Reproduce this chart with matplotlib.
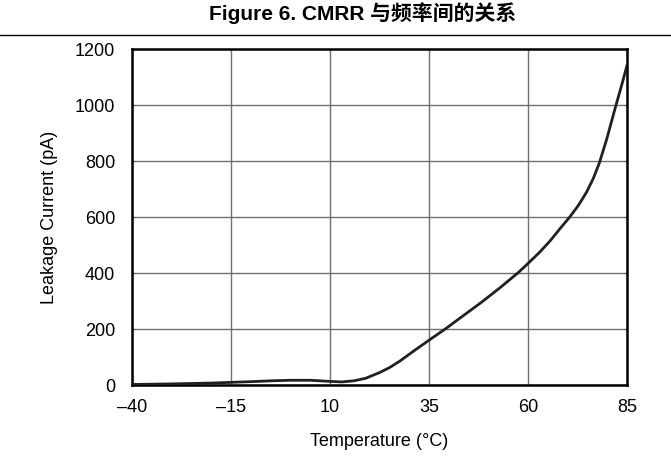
import matplotlib
matplotlib.use("Agg")
import matplotlib.pyplot as plt
from matplotlib.lines import Line2D

plt.rcParams["font.family"] = ["Liberation Sans", "Noto Sans CJK SC", "DejaVu Sans"]

# leakage current vs temperature
temp = [-40, -30, -20, -10, -5, 0, 5, 10, 13, 16, 19, 22.6, 25, 27.7, 31,
        35, 39.3, 43.5, 48.2, 52.9, 57.5, 60, 63, 65.6, 68, 70.6, 72.8,
        74.8, 76.5, 78, 79.9, 82, 83.7, 85]
leak = [2, 4, 7, 12, 15, 17, 17, 13, 11, 15, 24, 45, 62, 86, 120,
        160, 202, 246, 295, 347, 401, 434, 475, 515, 557, 601, 643,
        689, 738, 792, 879, 988, 1073, 1141]

xticks = [-40, -15, 10, 35, 60, 85]
xtick_labels = ["\u201340", "\u201315", "10", "35", "60", "85"]
yticks = [0, 200, 400, 600, 800, 1000, 1200]

fig = plt.figure(figsize=(6.71, 4.73), dpi=100)
ax = fig.add_axes([0.1967, 0.186, 0.7377, 0.7104])

ax.plot(temp, leak, color="#231f20", linewidth=2.0, zorder=3,
        solid_joinstyle="round")

ax.set_xlim(-40, 85)
ax.set_ylim(0, 1200)
ax.set_xticks(xticks)
ax.set_xticklabels(xtick_labels)
ax.set_yticks(yticks)
ax.tick_params(axis="both", length=0, labelsize=13, colors="black")
ax.tick_params(axis="x", pad=10)
ax.tick_params(axis="y", pad=12)
ax.grid(True, color="#707070", linewidth=1.0)
ax.set_axisbelow(True)
for sp in ax.spines.values():
    sp.set_linewidth(1.8)
    sp.set_color("black")

ax.set_xlabel("Temperature (\u00b0C)", fontsize=13, labelpad=12)
ax.set_ylabel("Leakage Current (pA)", fontsize=13, labelpad=12)

fig.text(0.54, 0.972, "Figure 6. CMRR 与频率间的关系", ha="center", va="center",
         fontsize=15, fontweight="bold")
fig.add_artist(Line2D([0, 1], [0.926, 0.926], color="black", linewidth=1.0,
                      transform=fig.transFigure))

fig.savefig("out.png", dpi=100)
